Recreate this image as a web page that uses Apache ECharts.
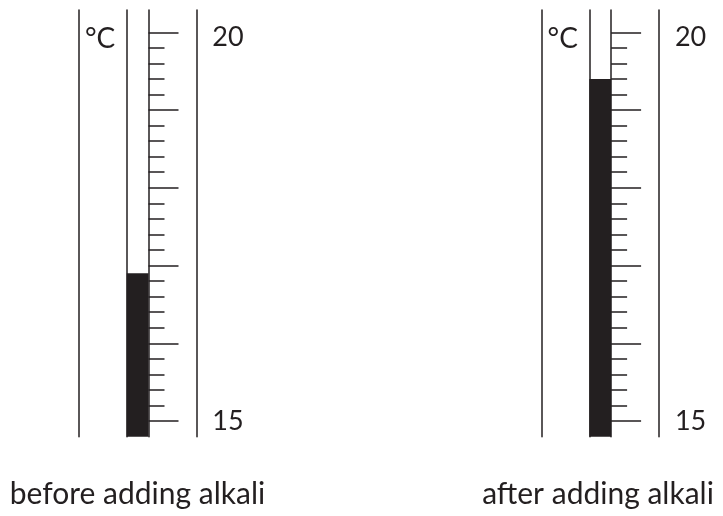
<!DOCTYPE html>
<html>
<head>
<meta charset="utf-8">
<script src="https://cdn.jsdelivr.net/npm/echarts@6/dist/echarts.min.js"></script>
<style>
html,body{margin:0;padding:0;background:#fff;}
#chart{width:723px;height:516px;}
</style>
</head>
<body>
<div id="chart"></div>
<script>
// ---- data ----
const captions = ['before adding alkali', 'after adding alkali'];
const temperatures = [16.9, 19.4];
const unitLabel = '°C';
const majorTicks = [15, 16, 17, 18, 19, 20];
const minorTicks = [15.2, 15.4, 15.6, 15.8, 16.2, 16.4, 16.6, 16.8, 17.2, 17.4, 17.6, 17.8,
                    18.2, 18.4, 18.6, 18.8, 19.2, 19.4, 19.6, 19.8];
const tickLabels = [15, 20];

// ---- layout / style ----
const INK = '#231f20';
const FONT = 'Lato';
const AX_MIN = 14.798, AX_MAX = 20.287;
const outerLefts = [79, 541.6];
const captionCenters = [137.5, 598];
const TOP = 10, BOTTOM = 516 - 436.7;
const OUTER_W = 117.3, TUBE_OFF = 47.7, TUBE_W = 21.8;

const grids = [], xAxes = [], yAxes = [], series = [], titles = [];

const lineStyle = { color: INK, width: 1.5 };

outerLefts.forEach((L, i) => {
  const gOuter = grids.length;
  grids.push({ left: L, top: TOP, bottom: BOTTOM, width: OUTER_W });
  const gTube = grids.length;
  grids.push({ left: L + TUBE_OFF, top: TOP, bottom: BOTTOM, width: TUBE_W });

  // outer grid axes
  xAxes.push({ gridIndex: gOuter, type: 'value', show: false });
  yAxes.push({ gridIndex: gOuter, type: 'value', position: 'left', min: AX_MIN, max: AX_MAX,
    axisLine: { show: true, lineStyle }, axisTick: { show: false }, axisLabel: { show: false },
    splitLine: { show: false } });
  yAxes.push({ gridIndex: gOuter, type: 'value', position: 'right', min: AX_MIN, max: AX_MAX,
    axisLine: { show: true, lineStyle }, axisTick: { show: false },
    axisLabel: { show: true, customValues: tickLabels, margin: 16, color: INK,
      fontFamily: FONT, fontSize: 27,
      formatter: v => v === 20 ? '{hi|' + v + '}' : '{lo|' + v + '}',
      rich: { hi: { fontFamily: FONT, fontSize: 27, color: INK, padding: [10, 0, 0, 0] },
              lo: { fontFamily: FONT, fontSize: 27, color: INK } } },
    splitLine: { show: false } });

  // tube grid axes
  xAxes.push({ gridIndex: gTube, type: 'category', data: [captions[i]], show: false });
  const yTubeLeft = yAxes.length;
  yAxes.push({ gridIndex: gTube, type: 'value', position: 'left', min: AX_MIN, max: AX_MAX,
    axisLine: { show: true, lineStyle }, axisTick: { show: false }, axisLabel: { show: false },
    splitLine: { show: false } });
  yAxes.push({ gridIndex: gTube, type: 'value', position: 'right', min: AX_MIN, max: AX_MAX,
    axisLine: { show: true, lineStyle },
    axisTick: { show: true, customValues: majorTicks, length: 30, inside: false, lineStyle },
    axisLabel: { show: false }, splitLine: { show: false } });
  yAxes.push({ gridIndex: gTube, type: 'value', position: 'right', min: AX_MIN, max: AX_MAX,
    axisLine: { show: false },
    axisTick: { show: true, customValues: minorTicks, length: 16, inside: false, lineStyle },
    axisLabel: { show: false }, splitLine: { show: false } });

  series.push({ type: 'bar', xAxisIndex: xAxes.length - 1, yAxisIndex: yTubeLeft,
    data: [temperatures[i]], barWidth: '100%', clip: true,
    itemStyle: { color: INK }, silent: true, animation: false });

  titles.push({ text: unitLabel, left: L + 6, top: 25, padding: 0,
    textStyle: { fontFamily: FONT, fontSize: 28, fontWeight: 'normal', color: INK } });
  titles.push({ text: captions[i], left: captionCenters[i], textAlign: 'center', top: 479, padding: 0,
    textStyle: { fontFamily: FONT, fontSize: 30, fontWeight: 'normal', color: INK } });
});

const chart = echarts.init(document.getElementById('chart'), null, { renderer: 'canvas' });
chart.setOption({
  animation: false,
  backgroundColor: '#fff',
  title: titles,
  grid: grids,
  xAxis: xAxes,
  yAxis: yAxes,
  series: series
});
</script>
</body>
</html>
